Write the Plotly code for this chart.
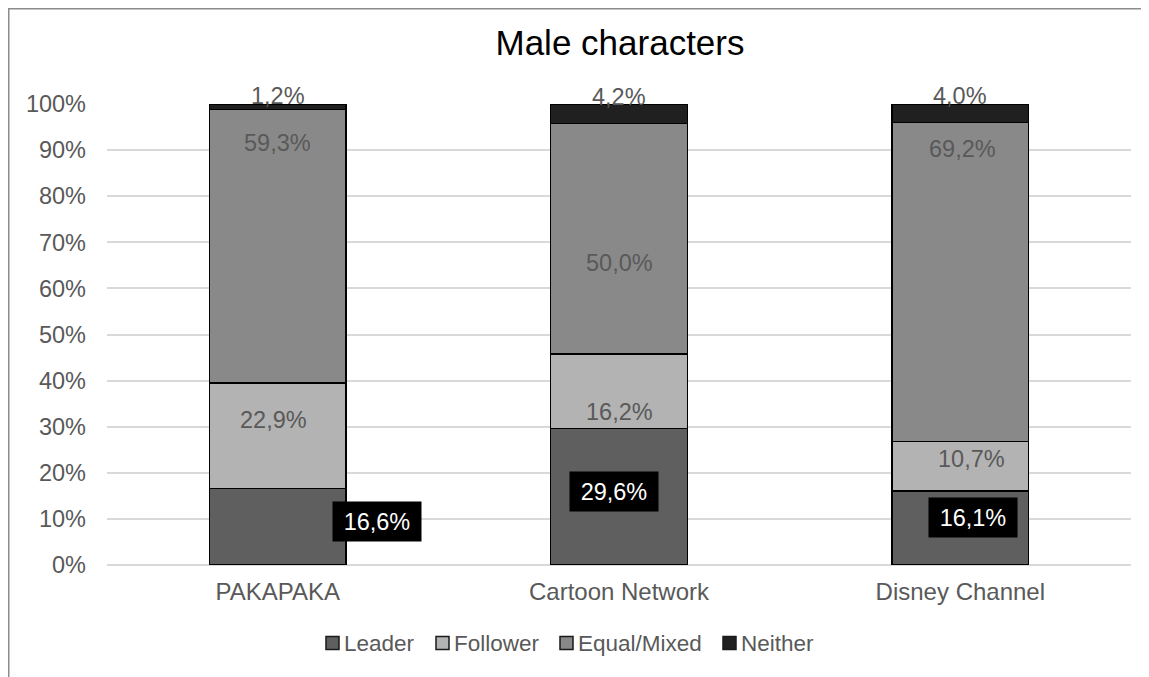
import plotly.graph_objects as go

categories = ["PAKAPAKA", "Cartoon Network", "Disney Channel"]
series_names = ["Leader", "Follower", "Equal/Mixed", "Neither"]
leader = [16.6, 29.6, 16.1]
follower = [22.9, 16.2, 10.7]
equal_mixed = [59.3, 50.0, 69.2]
neither = [1.2, 4.2, 4.0]
y_ticks = [0, 10, 20, 30, 40, 50, 60, 70, 80, 90, 100]
y_tick_labels = [f"{v}%" for v in y_ticks]

series_values = [leader, follower, equal_mixed, neither]
colors = ["#5f5f5f", "#b3b3b3", "#898989", "#202020"]

# label placement (data units) and pixel shifts for each series/category
label_y = [
    [9.5, 16.0, 10.2],
    [31.5, 33.2, 23.0],
    [91.5, 65.5, 90.2],
    [100, 100, 100],
]
label_yshift = [
    [0, 0, 0],
    [0, 0, 0],
    [0, 0, 0],
    [8, 7, 8],
]
label_xshift = [
    [99, -5, 13],
    [-4, 0, 11],
    [0, 0, 2],
    [0, 0, 0],
]

FONT = "Liberation Sans, Arial"
PLOT_L, PLOT_R, PLOT_T, PLOT_B = 107, 1131, 104, 565  # screen px of plot area


def px_x(sx):
    return (sx - PLOT_L) / (PLOT_R - PLOT_L)


def px_y(sy):
    return (PLOT_B - sy) / (PLOT_B - PLOT_T)


def fmt(v):
    return f"{v:.1f}".replace(".", ",") + "%"


fig = go.Figure()
for name, vals, col in zip(series_names, series_values, colors):
    fig.add_trace(go.Bar(
        x=categories, y=vals, name=name,
        marker=dict(color=col, line=dict(color="#000000", width=1.5)),
        hoverinfo="skip", showlegend=False,
    ))

annotations = []
for si, vals in enumerate(series_values):
    for ci, v in enumerate(vals):
        a = dict(
            x=categories[ci], y=label_y[si][ci], xref="x", yref="y",
            text=fmt(v), showarrow=False,
            xshift=label_xshift[si][ci], yshift=label_yshift[si][ci],
            font=dict(family=FONT, size=23.5, color="#595959"),
        )
        if si == 0:
            a.update(font=dict(family=FONT, size=23.5, color="#ffffff"),
                     bgcolor="#000000", borderpad=4, width=80, height=31)
        annotations.append(a)

# custom legend (marker squares + labels)
legend_marker_left = [326, 436, 560, 723]
legend_text_left = [343, 453, 577, 740]
legend_cy = 643
shapes = []
for name, col, ml, tl in zip(series_names, colors, legend_marker_left, legend_text_left):
    shapes.append(dict(type="rect", xref="paper", yref="paper",
                       x0=px_x(ml), x1=px_x(ml + 13),
                       y0=px_y(legend_cy + 6.5), y1=px_y(legend_cy - 6.5),
                       fillcolor=col, line=dict(color="#1a1a1a", width=1.5)))
    annotations.append(dict(xref="paper", yref="paper", x=px_x(tl - 1), y=px_y(legend_cy),
                            xanchor="left", yanchor="middle", showarrow=False, text=name,
                            font=dict(family=FONT, size=22.5, color="#595959")))

# outer chart frame (top and left edges)
shapes.append(dict(type="path", xref="paper", yref="paper",
                   path=f"M {px_x(8.5)},{px_y(700)} L {px_x(8.5)},{px_y(8.5)} L {px_x(1170)},{px_y(8.5)}",
                   line=dict(color="#8c8c8c", width=2)))

# figure is placed at (8, 8) by the page's body margin
W, H = 1141, 669
fig.update_layout(
    barmode="stack",
    bargap=0.6,
    width=W, height=H,
    margin=dict(l=PLOT_L - 8, r=W - (PLOT_R - 8), t=PLOT_T - 8, b=H - (PLOT_B - 8)),
    paper_bgcolor="#ffffff",
    plot_bgcolor="#ffffff",
    showlegend=False,
    font=dict(family=FONT, size=23.5, color="#595959"),
    title=dict(text="Male characters", x=(620 - 8) / W, xanchor="center",
               y=1 - (43 - 8) / H, yanchor="middle",
               font=dict(family=FONT, size=35, color="#000000")),
    xaxis=dict(showgrid=False, showline=False, ticks="", ticklabelstandoff=10,
               tickfont=dict(size=24, color="#595959")),
    yaxis=dict(range=[0, 100], tickvals=y_ticks, ticktext=y_tick_labels,
               showgrid=True, gridcolor="#d9d9d9", gridwidth=1.5,
               zeroline=True, zerolinecolor="#d9d9d9", zerolinewidth=1.5,
               showline=False, ticks="", ticklabelstandoff=20,
               tickfont=dict(size=23.5, color="#595959")),
    annotations=annotations,
    shapes=shapes,
)

fig.write_html("out.html")
